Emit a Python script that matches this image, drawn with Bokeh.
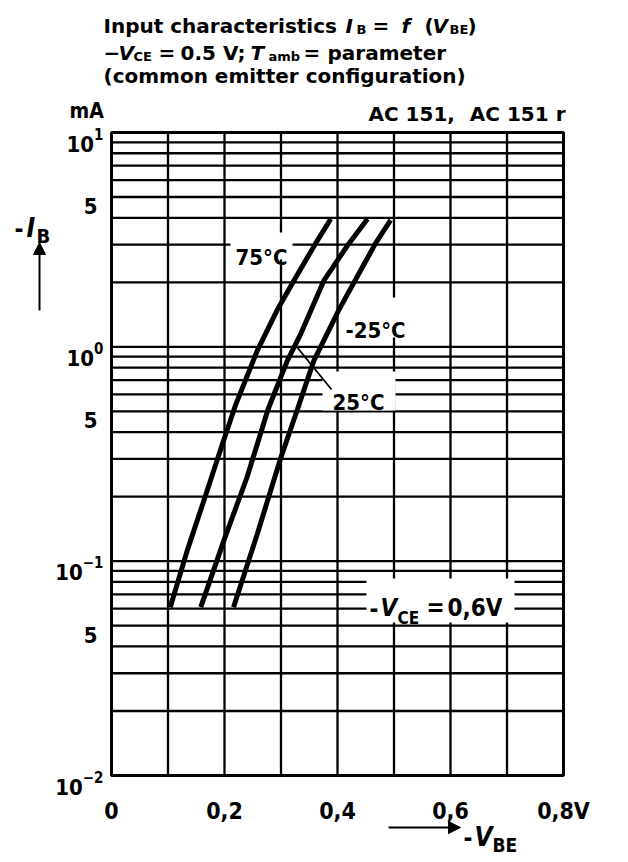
import math
from bokeh.plotting import figure
from bokeh.models import Label, Arrow, NormalHead, Range1d, ColumnDataSource
from bokeh.core.properties import value
from bokeh.embed import file_html
from bokeh.resources import INLINE

# ---------------- data ----------------
v_75 = [0.104, 0.134, 0.163, 0.196, 0.219, 0.258, 0.293, 0.323, 0.361, 0.388]
ib_75 = [0.061, 0.112, 0.19, 0.35, 0.53, 0.96, 1.48, 2.04, 3.03, 3.95]
v_25 = [0.158, 0.199, 0.240, 0.277, 0.311, 0.335, 0.376, 0.420, 0.453]
ib_25 = [0.061, 0.125, 0.247, 0.51, 0.86, 1.15, 2.04, 3.03, 3.95]
v_m25 = [0.216, 0.258, 0.299, 0.329, 0.358, 0.402, 0.444, 0.467, 0.494]
ib_m25 = [0.061, 0.134, 0.30, 0.51, 0.86, 1.48, 2.35, 3.03, 3.9]
temp_labels = ["75°C", "25°C", "-25°C"]

x_ticks = [0, 0.2, 0.4, 0.6, 0.8]
x_tick_labels = ["0", "0,2", "0,4", "0,6", "0,8V"]
y_decade_ticks = [10, 1, 0.1, 0.01]
y_decade_exponents = ["1", "0", "−1", "−2"]
y_five_ticks = [5, 0.5, 0.05]
y_five_labels = ["5", "5", "5"]

X_MIN, X_MAX = 0.0, 0.8
Y_MIN, Y_MAX = 0.01, 10.0

# ---------------- layout (canvas pixels) ----------------
W, H = 624, 858
FL, FR, FT, FB = 111, 563, 132, 775   # chart box inside the canvas

COND = "DejaVu Sans Condensed"
WIDE = "DejaVu Sans"


def dx(px):
    return X_MIN + (px - FL) / (FR - FL) * (X_MAX - X_MIN)


def dy(py):
    lo, hi = math.log10(Y_MIN), math.log10(Y_MAX)
    return 10 ** (hi - (py - FT) / (FB - FT) * (hi - lo))


p = figure(width=W, height=H, x_range=Range1d(dx(0), dx(W)), y_range=Range1d(dy(H), dy(0)),
           y_axis_type="log", x_axis_location=None, y_axis_location=None, min_border=0,
           output_backend="svg", toolbar_location=None, title=None,
           background_fill_color="white", border_fill_color="white")
p.outline_line_color = None
p.grid.visible = False

# grid lines of the chart box
xgrid_vals = [round(0.1 * i, 1) for i in range(1, 8)]
ygrid_vals = [m * 10.0 ** k for k in (-2, -1, 0) for m in range(1, 10)][1:]
p.segment(x0=xgrid_vals, y0=[Y_MIN] * len(xgrid_vals), x1=xgrid_vals, y1=[Y_MAX] * len(xgrid_vals),
          line_color="black", line_width=2.3)
p.segment(x0=[X_MIN] * len(ygrid_vals), y0=ygrid_vals, x1=[X_MAX] * len(ygrid_vals), y1=ygrid_vals,
          line_color="black", line_width=2.3)

# white boxes behind in-plot labels
boxes = [(230, 292, 232, 259), (340, 410, 297, 337), (322, 395, 371, 410), (366, 514, 578, 622)]
p.quad(left=[dx(b[0]) for b in boxes], right=[dx(b[1]) for b in boxes],
       top=[dy(b[2]) for b in boxes], bottom=[dy(b[3]) for b in boxes],
       fill_color="white", line_color=None)

# frame of the chart
p.quad(left=[X_MIN], right=[X_MAX], top=[Y_MAX], bottom=[Y_MIN], fill_color=None,
       line_color="black", line_width=3)

# curves
for v, ib in ((v_75, ib_75), (v_25, ib_25), (v_m25, ib_m25)):
    p.line(v, ib, line_width=5, line_color="black")

# leader line of 25°C
p.line([dx(296), dx(331)], [dy(346), dy(389)], line_width=1.8, line_color="black")

# ---------------- tick labels (placed at tick values through the scales) ----------------
p.text(x=x_ticks, y=[Y_MIN] * len(x_ticks), text=x_tick_labels, y_offset=35,
       text_align="center", text_baseline="alphabetic", text_font=value(COND),
       text_font_style="bold", text_font_size="23px", text_color="black")

EXP_SIZE = 15
exp_w = [sum({"−": 0.754}.get(c, 0.626) for c in e) * EXP_SIZE for e in y_decade_exponents]
dec_src = ColumnDataSource(dict(x=[X_MIN] * 4, y=y_decade_ticks, exp=y_decade_exponents,
                                ten=["10"] * 4, xo=[-8 - w for w in exp_w]))
p.text(x="x", y="y", text="ten", source=dec_src, x_offset="xo", y_offset=11,
       text_align="right", text_baseline="alphabetic", text_font=value(COND),
       text_font_style="bold", text_font_size="22px", text_color="black")
p.text(x="x", y="y", text="exp", source=dec_src, x_offset=-8, y_offset=1,
       text_align="right", text_baseline="alphabetic", text_font=value(COND),
       text_font_style="bold", text_font_size=f"{EXP_SIZE}px", text_color="black")
p.text(x=[X_MIN] * 3, y=y_five_ticks, text=y_five_labels, x_offset=-14, y_offset=9,
       text_align="right", text_baseline="alphabetic", text_font=value(COND),
       text_font_style="bold", text_font_size="22px", text_color="black")


def lab(x, y, text, font, size, style="bold", align="left"):
    p.add_layout(Label(x=x, y=y, x_units="canvas", y_units="canvas", text=text,
                       text_font=font, text_font_size=f"{size}px",
                       text_font_style=style, text_align=align, text_baseline="alphabetic",
                       text_color="black"))


# temperature labels
lab(261, 257, temp_labels[0], COND, 22, align="center")
lab(358, 402, temp_labels[1], COND, 22, align="center")
lab(375, 330, temp_labels[2], COND, 22, align="center")

# -V_CE = 0,6V
lab(369, 607, "-", COND, 24)
lab(380, 607, "V", COND, 24, "bold italic")
lab(397, 617, "CE", COND, 17)
lab(426, 607, "=", COND, 24)
lab(447, 607, "0,6V", COND, 24)

# title block
lab(103, 25, "Input characteristics", WIDE, 20)
lab(345, 25, "I", WIDE, 20, "bold italic")
lab(356, 29, "B", WIDE, 13)
lab(372, 25, "=", WIDE, 20)
lab(401, 25, "f", WIDE, 20, "bold italic")
lab(424, 25, "(", WIDE, 20)
lab(432, 25, "V", WIDE, 20, "bold italic")
lab(449, 29, "BE", WIDE, 13)
lab(467, 25, ")", WIDE, 20)

lab(103, 52, "−", WIDE, 20)
lab(118, 52, "V", WIDE, 20, "bold italic")
lab(133, 56, "CE", WIDE, 13)
lab(158, 52, "=", WIDE, 20)
lab(180, 52, "0.5 V;", WIDE, 20)
lab(250, 52, "T", WIDE, 20, "bold italic")
lab(268, 56, "amb", WIDE, 13)
lab(303, 52, "=", WIDE, 20)
lab(327, 52, "parameter", WIDE, 20)

lab(103, 75, "(common emitter configuration)", WIDE, 20)

lab(368, 113, "AC 151,", WIDE, 20)
lab(565, 113, "AC 151 r", WIDE, 20, align="right")

lab(69, 110, "mA", COND, 21)

# y axis label
lab(14, 227, "-", COND, 24)
lab(26, 227, "I", COND, 26, "bold italic")
lab(36, 235, "B", COND, 20)
p.add_layout(Arrow(end=NormalHead(size=12, fill_color="black", line_color="black"),
                   x_start=39, y_start=310, x_end=39, y_end=242,
                   start_units="canvas", end_units="canvas",
                   line_width=2, line_color="black"))

# x axis label
lab(463, 836, "-", COND, 24)
lab(474, 836, "V", COND, 26, "bold italic")
lab(492, 844, "BE", COND, 19)
p.add_layout(Arrow(end=NormalHead(size=12, fill_color="black", line_color="black"),
                   x_start=388, y_start=827, x_end=460, y_end=827,
                   start_units="canvas", end_units="canvas",
                   line_width=2, line_color="black"))

open("out.html", "w").write(file_html(p, INLINE))
